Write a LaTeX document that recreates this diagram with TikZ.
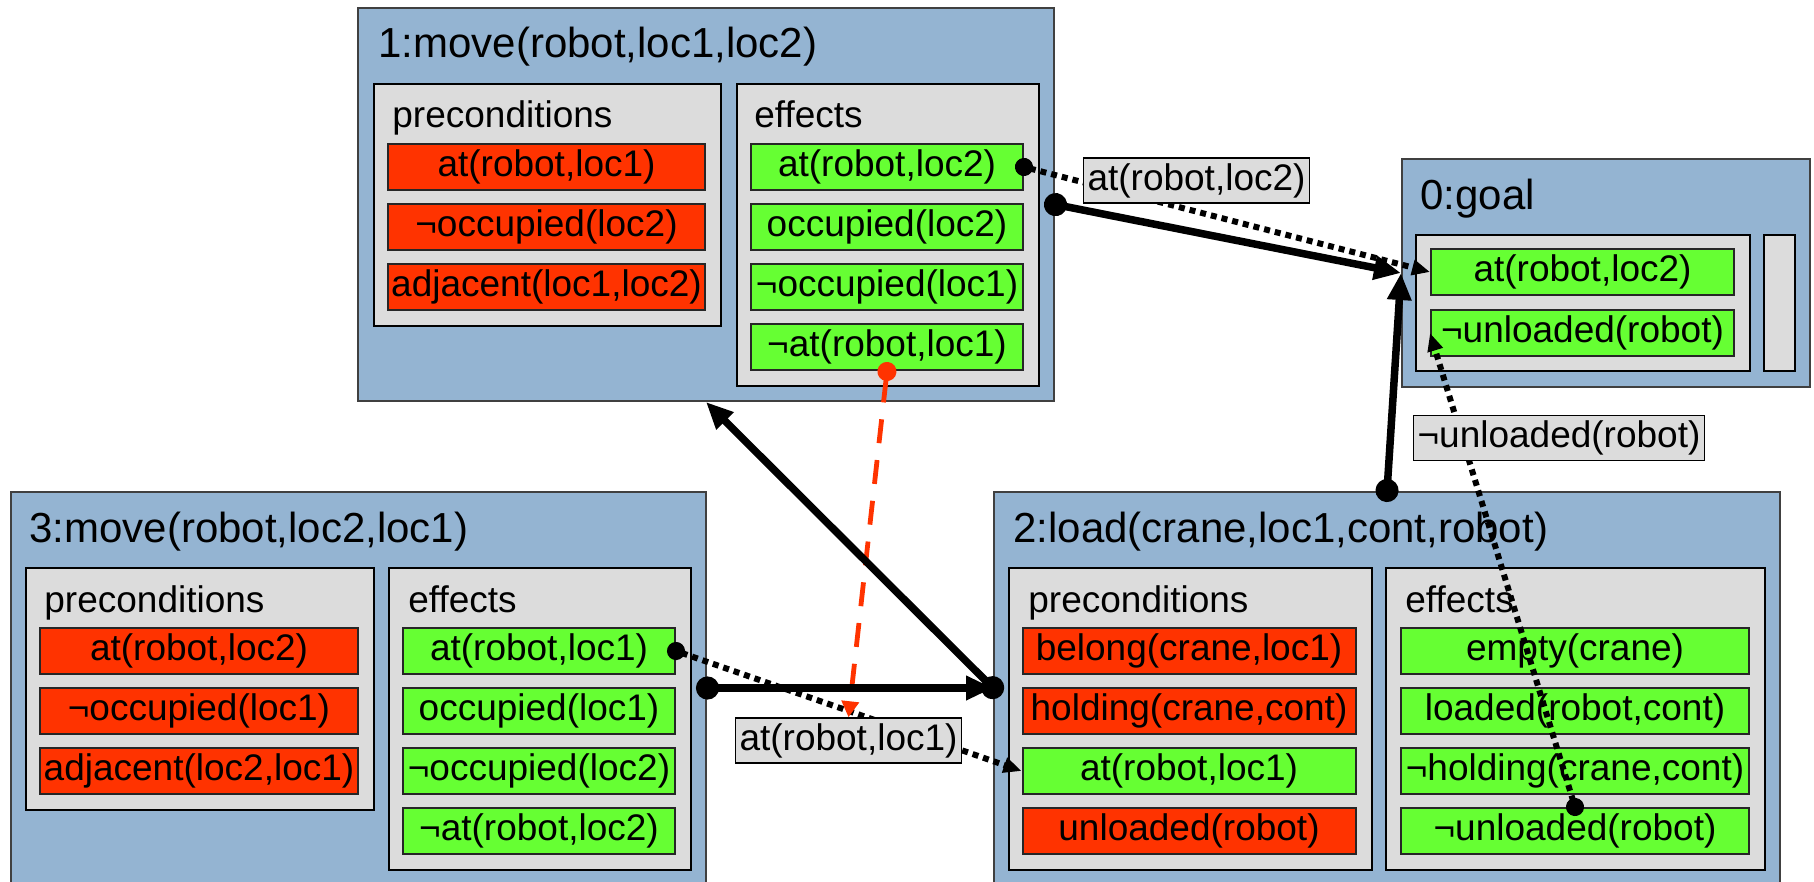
\documentclass[tikz,border=0pt]{standalone}
\usepackage{fontspec}
\setmainfont{Liberation Sans}
\usetikzlibrary{arrows.meta}

\definecolor{actblue}{HTML}{94B4D2}
\definecolor{sectgray}{HTML}{DCDCDC}
\definecolor{prered}{HTML}{FF3300}
\definecolor{effgreen}{HTML}{66FF33}
\newcommand{\titlefont}{\fontsize{21}{25}\selectfont}
\newcommand{\itemfont}{\fontsize{18.5}{22}\selectfont}

\tikzset{
  act/.style={draw=black!75, fill=actblue, line width=1pt, anchor=north west, inner sep=0pt},
  sect/.style={draw, fill=sectgray, line width=1pt, anchor=north west, inner sep=0pt},
  acttitle/.style={anchor=base west, inner sep=0pt, font=\titlefont},
  secttitle/.style={anchor=base west, inner sep=0pt, font=\itemfont},
  cond/.style={draw=black!85, line width=1pt, minimum height=23pt, inner sep=0pt, font=\itemfont},
  pre/.style={cond, fill=prered},
  eff/.style={cond, fill=effgreen},
  linklabel/.style={draw, fill=sectgray, line width=0.75pt, minimum height=22.5pt,
    inner xsep=2pt, inner ysep=0pt, font=\itemfont},
  order/.style={line width=3.75pt, shorten <=-5.5pt,
    {Circle[length=11.5pt]}-{Triangle[length=13.5pt,width=11.5pt]}},
  causal/.style={line width=3pt, dash pattern=on 3pt off 2.5pt, shorten <=-4.5pt,
    {Circle[length=9pt]}-{Triangle[length=9pt,width=7.5pt]}},
  threat/.style={prered, line width=2.4pt, dash pattern=on 12pt off 8.5pt, shorten <=-4.5pt,
    {Circle[length=9.5pt]}-{Triangle[length=8pt,width=8.5pt]}},
}

\begin{document}
\begin{tikzpicture}[x=0.5pt, y=-0.5pt]
  \useasboundingbox (0,0) rectangle (1814,882);
  % steps of the plan
  \node[act, minimum width=348pt, minimum height=196.5pt] (m1) at (357,7) {};
  \node[act, minimum width=347.5pt, minimum height=196pt] (m3) at (10,491) {};
  \node[act, minimum width=393pt, minimum height=196pt] (m2) at (993,491) {};
  \node[act, minimum width=204pt, minimum height=114pt] (g) at (1401,158) {};
  \node[acttitle] (m1t) at (378,58) {1:move(robot,loc1,loc2)};
  \node[acttitle] (m3t) at (29,542) {3:move(robot,loc2,loc1)};
  \node[acttitle] (m2t) at (1013,542) {2:load(crane,loc1,cont,robot)};
  \node[acttitle] (gt) at (1420,210) {0:goal};

  % preconditions / effects panels
  \node[sect, minimum width=173.5pt, minimum height=121pt] (m1pre) at (373,83) {};
  \node[sect, minimum width=151pt, minimum height=151pt] (m1eff) at (736,83) {};
  \node[sect, minimum width=174pt, minimum height=121pt] (m3pre) at (25,567) {};
  \node[sect, minimum width=151pt, minimum height=151pt] (m3eff) at (388,567) {};
  \node[sect, minimum width=181.5pt, minimum height=151pt] (m2pre) at (1008,567) {};
  \node[sect, minimum width=189.5pt, minimum height=151pt] (m2eff) at (1385,567) {};
  \node[sect, minimum width=167pt, minimum height=68pt] (gpre) at (1415,234) {};
  \node[sect, minimum width=15.5pt, minimum height=68pt] (geff) at (1763,234) {};
  \foreach \x/\y/\n in {392/128/m1, 44/612/m3, 1028/612/m2} { \node[secttitle] (\n pret) at (\x,\y) {preconditions}; }
  \foreach \x/\y/\n in {754/128/m1, 408/612/m3, 1405/612/m2} { \node[secttitle] (\n efft) at (\x,\y) {effects}; }

  % conditions
  \foreach \t [count=\i] in {{at(robot,loc1)},{¬occupied(loc2)},{adjacent(loc1,loc2)}}
    { \node[pre, minimum width=158.5pt] (m1p\i) at (546.5,107+60*\i) {\t}; }
  \foreach \t [count=\i] in {{at(robot,loc2)},{occupied(loc2)},{¬occupied(loc1)},{¬at(robot,loc1)}}
    { \node[eff, minimum width=136pt] (m1e\i) at (887,107+60*\i) {\t}; }
  \foreach \t [count=\i] in {{at(robot,loc2)},{¬occupied(loc1)},{adjacent(loc2,loc1)}}
    { \node[pre, minimum width=159pt] (m3p\i) at (199,591+60*\i) {\t}; }
  \foreach \t [count=\i] in {{at(robot,loc1)},{occupied(loc1)},{¬occupied(loc2)},{¬at(robot,loc2)}}
    { \node[eff, minimum width=136pt] (m3e\i) at (539,591+60*\i) {\t}; }
  \foreach \t/\s [count=\i] in {{belong(crane,loc1)}/pre,{holding(crane,cont)}/pre,{at(robot,loc1)}/eff,{unloaded(robot)}/pre}
    { \node[\s, minimum width=166.5pt] (m2p\i) at (1189,591+60*\i) {\t}; }
  \foreach \t [count=\i] in {{empty(crane)},{loaded(robot,cont)},{¬holding(crane,cont)},{¬unloaded(robot)}}
    { \node[eff, minimum width=174pt] (m2e\i) at (1575,591+60*\i) {\t}; }
  \node[eff, minimum width=151.5pt] (g1) at (1582.5,272) {at(robot,loc2)};
  \node[eff, minimum width=151.5pt] (g2) at (1582.5,333) {¬unloaded(robot)};

  % causal links
  \draw[causal] (m1e1.east) -- (g1.west);
  \draw[causal] (m3e1.east) -- (m2p3.west);
  \draw[causal] (m2e4.north) -- (g2.west);
  \node[linklabel] (lb12) at (1196.5,180.5) {at(robot,loc2)};
  \node[linklabel] (lb32) at (848.5,740.5) {at(robot,loc1)};
  \node[linklabel] (lb20) at (1559,438) {¬unloaded(robot)};

  % threat
  \draw[threat] (m1e4.south) -- (lb32.north);

  % ordering
  \draw[order] (m1.east) -- (g.west);
  \draw[order] (m2.north) -- (g.west);
  \draw[order] (m3.east) -- (m2.west);
  \draw[order] (m2.west) -- (m1.south);
\end{tikzpicture}
\end{document}
